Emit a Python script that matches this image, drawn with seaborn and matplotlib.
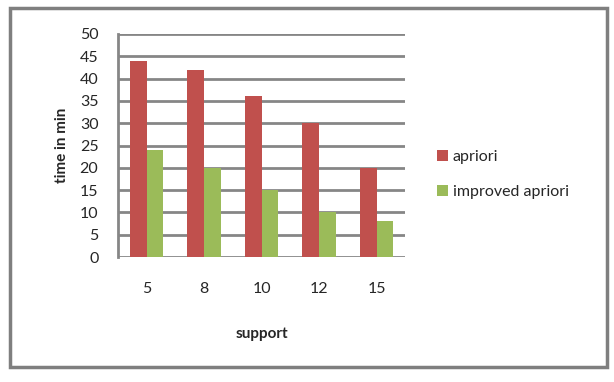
import matplotlib
matplotlib.use("Agg")
import matplotlib.pyplot as plt
import seaborn as sns
import pandas as pd
from matplotlib.patches import Rectangle

support = ["5", "8", "10", "12", "15"]
apriori = [44, 42, 36, 30, 20]
improved = [24, 20, 15, 10, 8]
series_names = ["apriori", "improved apriori"]
colors = ["#C0504D", "#9BBB59"]

df = pd.DataFrame({
    "support": support * 2,
    "time": apriori + improved,
    "series": [series_names[0]] * len(support) + [series_names[1]] * len(support),
})

sns.set_style("white")
plt.rcParams["font.family"] = ["Lato", "DejaVu Sans"]

fig = plt.figure(figsize=(6.14, 3.82), dpi=100)
ax = fig.add_axes([0.192, 0.327, 0.468, 0.584])
sns.barplot(data=df, x="support", y="time", hue="series", palette=colors,
            width=0.58, ax=ax, saturation=1, zorder=3,
            edgecolor="none", linewidth=0)

ax.set_ylim(0, 50)
ax.set_yticks(range(0, 51, 5))
ax.set_xlim(-0.5, 4.5)
ax.yaxis.grid(True, color="#868686", linewidth=2, zorder=0)
ax.set_axisbelow(True)
for s in ["top", "right", "bottom"]:
    ax.spines[s].set_visible(False)
ax.spines["left"].set_color("#868686")
ax.spines["left"].set_linewidth(2)
ax.tick_params(axis="y", length=0, labelsize=11.5, pad=14)
ax.tick_params(axis="x", length=0, labelsize=11.5, pad=18)
ax.set_xlabel("support", fontsize=11, fontweight="bold", labelpad=22)
ax.set_ylabel("time in min", fontsize=11, fontweight="bold", labelpad=8)

handles, labels = ax.get_legend_handles_labels()
ax.legend(handles, labels, loc="center left", bbox_to_anchor=(1.06, 0.37),
          frameon=False, fontsize=11.5, handlelength=0.7, handleheight=0.7,
          labelspacing=1.3, handletextpad=0.3)

fig.patches.append(Rectangle((10 / 614, 1 - 367 / 382), 597 / 614, 359 / 382,
                             transform=fig.transFigure, fill=False,
                             edgecolor="#7F7F7F", linewidth=2.5))
fig.savefig("out.png", dpi=100)
